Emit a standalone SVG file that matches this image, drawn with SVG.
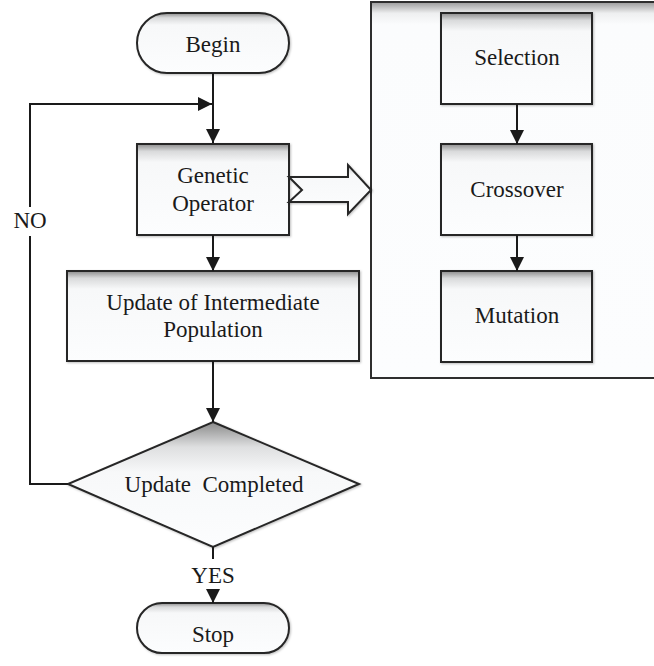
<svg xmlns="http://www.w3.org/2000/svg" width="654" height="666" viewBox="0 0 654 666" font-family="'Liberation Serif', 'Times New Roman', Tinos, 'DejaVu Serif', serif">
  <style>
    .shape { stroke: #262626; stroke-width: 2; fill: url(#shade); filter: url(#soft); }
    .lbl { font-size: 23px; fill: #1a1a1a; text-anchor: middle; }
    .wire { fill: none; stroke: #1a1a1a; stroke-width: 2; }
  </style>
  <defs>
    <linearGradient id="shade" x1="0" y1="0" x2="0" y2="1">
      <stop offset="0" stop-color="#8c8c8c"/>
      <stop offset="0.08" stop-color="#d9dadb"/>
      <stop offset="0.2" stop-color="#f7f8f9"/>
      <stop offset="1" stop-color="#fcfdfe"/>
    </linearGradient>
    <linearGradient id="shadeDiamond" x1="0" y1="0" x2="0" y2="1">
      <stop offset="0" stop-color="#8a8a8a"/>
      <stop offset="0.2" stop-color="#dedfe0"/>
      <stop offset="0.4" stop-color="#f7f8f9"/>
      <stop offset="1" stop-color="#fcfdfe"/>
    </linearGradient>
    <linearGradient id="shadePanel" x1="0" y1="0" x2="0" y2="1">
      <stop offset="0" stop-color="#9a9a9a"/>
      <stop offset="0.03" stop-color="#eeeff0"/>
      <stop offset="0.06" stop-color="#fbfcfd"/>
      <stop offset="1" stop-color="#fcfdfe"/>
    </linearGradient>
    <filter id="soft" x="-10%" y="-10%" width="125%" height="125%">
      <feDropShadow dx="1" dy="1" stdDeviation="0.8" flood-color="#000" flood-opacity="0.25"/>
    </filter>
    <marker id="head" markerUnits="userSpaceOnUse" markerWidth="14" markerHeight="14" viewBox="0 0 14 14" refX="14" refY="7" orient="auto">
      <path d="M0,0 L14,7 L0,14 Z" fill="#1a1a1a"/>
    </marker>
  </defs>

  <!-- operator panel on the right -->
  <g id="operator-panel">
    <rect x="371" y="2" width="300" height="376" fill="url(#shadePanel)" stroke="#2e2e2e" stroke-width="2"/>
  </g>

  <g id="begin">
    <rect class="shape" x="137" y="13" width="152" height="60" rx="30" ry="30"/>
    <text class="lbl" x="213" y="52">Begin</text>
  </g>

  <g id="genetic-operator">
    <rect class="shape" x="137" y="144" width="152" height="91"/>
    <text class="lbl" x="213" y="183">Genetic</text>
    <text class="lbl" x="213" y="211">Operator</text>
  </g>

  <g id="update-population">
    <rect class="shape" x="67" y="271" width="292" height="90" stroke="#555"/>
    <text class="lbl" x="213" y="310">Update of Intermediate</text>
    <text class="lbl" x="213" y="337">Population</text>
  </g>

  <g id="update-completed">
    <polygon class="shape" points="213,422 359,484 213,547 68,484" style="fill:url(#shadeDiamond)"/>
    <text class="lbl" x="214" y="492" xml:space="preserve">Update  Completed</text>
  </g>

  <g id="stop">
    <rect class="shape" x="137" y="603" width="152" height="50" rx="25" ry="25"/>
    <text class="lbl" x="213" y="642">Stop</text>
  </g>

  <g id="selection">
    <rect class="shape" x="441" y="13" width="151" height="91"/>
    <text class="lbl" x="517" y="65">Selection</text>
  </g>

  <g id="crossover">
    <rect class="shape" x="441" y="144" width="151" height="91"/>
    <text class="lbl" x="517" y="197">Crossover</text>
  </g>

  <g id="mutation">
    <rect class="shape" x="441" y="271" width="151" height="91"/>
    <text class="lbl" x="517" y="323">Mutation</text>
  </g>

  <!-- block arrow into the operator panel -->
  <g id="expand-arrow">
    <polygon class="shape" points="289,177 348,177 348,165 371,190 348,214 348,202 289,202 302,190"/>
  </g>

  <g id="connectors">
    <path class="wire" d="M213,73 V143" marker-end="url(#head)"/>
    <path class="wire" d="M213,235 V271" marker-end="url(#head)"/>
    <path class="wire" d="M213,361 V422" marker-end="url(#head)"/>
    <path class="wire" d="M68,484 H30 V236"/>
    <path class="wire" d="M30,207 V104 H212" marker-end="url(#head)"/>
    <path class="wire" d="M213,547 V559"/>
    <path class="wire" d="M213,589 V603" marker-end="url(#head)"/>
    <path class="wire" d="M517,104 V144" marker-end="url(#head)"/>
    <path class="wire" d="M517,235 V271" marker-end="url(#head)"/>
    <text class="lbl" x="30" y="228">NO</text>
    <text class="lbl" x="213" y="583">YES</text>
  </g>
</svg>
